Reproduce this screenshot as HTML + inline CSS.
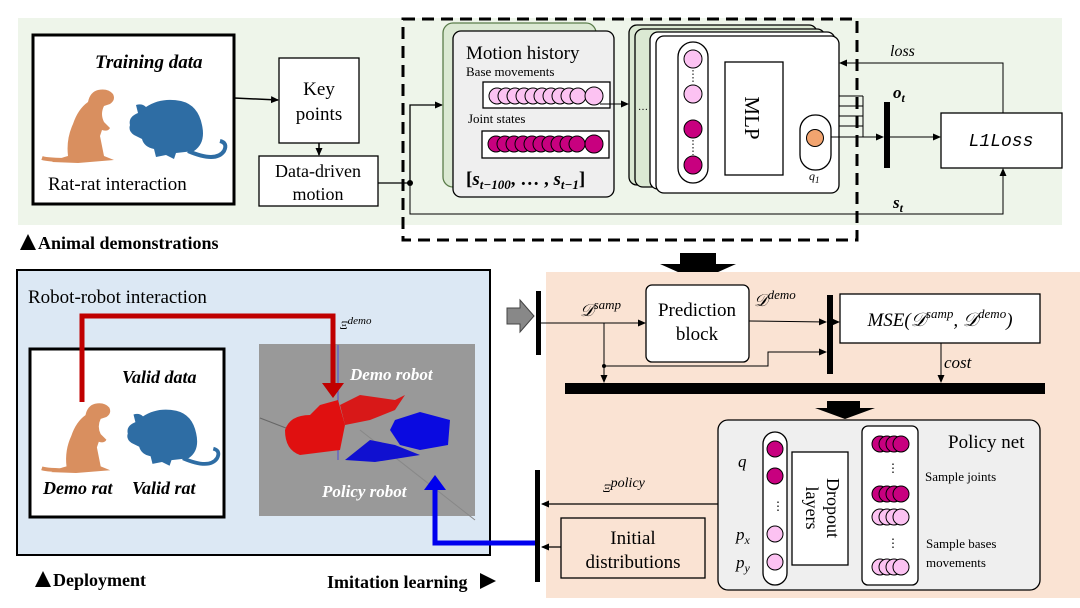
<!DOCTYPE html>
<html><head><meta charset="utf-8"><style>
html,body{margin:0;padding:0;background:#fff;}
svg{display:block;font-family:"Liberation Serif",serif;}
.it{font-style:italic}
</style></head><body>
<svg width="1080" height="608" viewBox="0 0 1080 608" xmlns="http://www.w3.org/2000/svg">
<defs>
<marker id="ar" markerWidth="8" markerHeight="8" refX="7" refY="4" orient="auto" markerUnits="userSpaceOnUse"><path d="M0,0.5 L8,4 L0,7.5z" fill="#000"/></marker>
<g id="ratO"><path d="M14,78 Q22,74 30,72 Q28,55 35,40 Q40,25 50,18 Q52,8 60,6 Q70,4 75,10 Q78,16 72,20 L66,22 Q62,30 66,38 L72,44 Q70,48 64,46 L62,52 L66,72 L76,76 L40,79 Z" fill="#d98f5f"/><path d="M32,76 Q10,76 4,74" fill="none" stroke="#d98f5f" stroke-width="4"/></g>
<g id="ratB"><path d="M4,30 Q2,22 12,18 L10,10 Q16,8 20,12 Q35,2 55,6 Q72,10 76,30 Q80,48 68,56 L50,58 L48,64 L40,60 L30,62 L28,54 Q18,52 16,44 L8,40 Q2,36 4,30 Z" fill="#2e6da4"/><path d="M62,56 Q90,68 98,56 Q102,48 94,46" fill="none" stroke="#2e6da4" stroke-width="4"/></g>
</defs>

<rect x="18" y="18" width="1044" height="207" fill="#eef5ea"/>
<rect x="33" y="35" width="201" height="169" fill="#fff" stroke="#000" stroke-width="3"/>
<text x="95" y="68" font-size="19" font-weight="bold" class="it">Training data</text>
<use href="#ratO" transform="translate(38,84) scale(1.0)"/>
<use href="#ratB" transform="translate(126,95) scale(1.0)"/>
<text x="48" y="190" font-size="19">Rat-rat interaction</text>
<line x1="234" y1="98" x2="278" y2="100" stroke="#000" stroke-width="1.5" marker-end="url(#ar)"/>
<rect x="279" y="58" width="80" height="85" fill="#fff" stroke="#000" stroke-width="1.3"/>
<text x="319" y="95" font-size="19" text-anchor="middle">Key</text>
<text x="319" y="120" font-size="19" text-anchor="middle">points</text>
<line x1="319" y1="143" x2="319" y2="155" stroke="#000" stroke-width="1.5" marker-end="url(#ar)"/>
<rect x="259" y="156" width="119" height="50" fill="#fff" stroke="#000" stroke-width="1.3"/>
<text x="318" y="177" font-size="18" text-anchor="middle">Data-driven</text>
<text x="318" y="200" font-size="18" text-anchor="middle">motion</text>
<polygon points="20,250 28,234 36,250" fill="#000"/>
<text x="38" y="249" font-size="18" font-weight="bold">Animal demonstrations</text>

<line x1="378" y1="183" x2="410" y2="183" stroke="#000" stroke-width="1.3"/>
<circle cx="410" cy="183" r="3" fill="#000"/>
<polyline points="410,183 410,105 442,105" fill="none" stroke="#000" stroke-width="1.3" marker-end="url(#ar)"/>
<polyline points="410,183 410,214 1003,214 1003,169" fill="none" stroke="#000" stroke-width="1" marker-end="url(#ar)"/>
<rect x="403" y="19" width="454" height="221" fill="none" stroke="#000" stroke-width="3" stroke-dasharray="12,7"/>

<rect x="443" y="23" width="153" height="164" rx="10" fill="#dbe9d3" stroke="#5b7d4b" stroke-width="1.3"/>
<rect x="453" y="31" width="161" height="166" rx="8" fill="#efefef" stroke="#000" stroke-width="1.3"/>
<text x="466" y="59" font-size="19">Motion history</text>
<text x="466" y="76" font-size="13">Base movements</text>
<rect x="483" y="82" width="127" height="26" fill="#fff" stroke="#000" stroke-width="1.3"/>
<g fill="#fcc2f2" stroke="#000" stroke-width="1">
<circle cx="497" cy="96" r="8"/><circle cx="506" cy="96" r="8"/><circle cx="515" cy="96" r="8"/><circle cx="524" cy="96" r="8"/><circle cx="533" cy="96" r="8"/><circle cx="542" cy="96" r="8"/><circle cx="551" cy="96" r="8"/><circle cx="560" cy="96" r="8"/><circle cx="569" cy="96" r="8"/><circle cx="578" cy="96" r="8"/><circle cx="594" cy="96" r="9"/>
</g>
<text x="468" y="123" font-size="13">Joint states</text>
<rect x="482" y="131" width="127" height="27" fill="#fff" stroke="#000" stroke-width="1.3"/>
<g fill="#c8007f" stroke="#000" stroke-width="1">
<circle cx="496" cy="144" r="8"/><circle cx="505" cy="144" r="8"/><circle cx="514" cy="144" r="8"/><circle cx="523" cy="144" r="8"/><circle cx="532" cy="144" r="8"/><circle cx="541" cy="144" r="8"/><circle cx="550" cy="144" r="8"/><circle cx="559" cy="144" r="8"/><circle cx="568" cy="144" r="8"/><circle cx="577" cy="144" r="8"/><circle cx="594" cy="144" r="9"/>
</g>
<text x="466" y="185" font-size="19" font-weight="bold">[<tspan class="it">s</tspan><tspan font-size="13" class="it" dy="4">t−100</tspan><tspan dy="-4">, … , </tspan><tspan class="it">s</tspan><tspan font-size="13" class="it" dy="4">t−1</tspan><tspan dy="-4">]</tspan></text>
<line x1="600" y1="104" x2="628" y2="104" stroke="#000" stroke-width="1" marker-end="url(#ar)"/>

<rect x="629" y="25" width="188" height="160" rx="8" fill="#dbe9d3" stroke="#000" stroke-width="1.3"/>
<rect x="635" y="29" width="190" height="158" rx="8" fill="#dbe9d3" stroke="#000" stroke-width="1.3"/>
<rect x="650" y="32" width="185" height="157" rx="8" fill="#fff" stroke="#000" stroke-width="1.3"/>
<rect x="656" y="36" width="183" height="157" rx="8" fill="#fff" stroke="#000" stroke-width="1.3"/>
<text x="638" y="110" font-size="10">…</text>
<rect x="678" y="42" width="30" height="141" rx="15" fill="#fff" stroke="#000" stroke-width="1.3"/>
<circle cx="693" cy="59" r="9" fill="#fcc2f2" stroke="#000"/>
<circle cx="693" cy="94" r="9" fill="#fcc2f2" stroke="#000"/>
<circle cx="693" cy="129" r="9" fill="#c8007f" stroke="#000"/>
<circle cx="693" cy="165" r="9" fill="#c8007f" stroke="#000"/>
<line x1="693" y1="70" x2="693" y2="84" stroke="#000" stroke-dasharray="1.5,2"/>
<line x1="693" y1="140" x2="693" y2="155" stroke="#000" stroke-dasharray="1.5,2"/>
<rect x="725" y="62" width="58" height="113" fill="#fff" stroke="#000" stroke-width="1.3"/>
<text transform="translate(745,118) rotate(90)" font-size="21" text-anchor="middle">MLP</text>
<rect x="800" y="115" width="31" height="55" rx="15" fill="#fff" stroke="#000" stroke-width="1.3"/>
<circle cx="815" cy="138" r="8.5" fill="#f2a46f" stroke="#000"/>
<text x="809" y="180" font-size="12" class="it">q<tspan font-size="9" dy="3">1</tspan></text>
<g stroke="#000" stroke-width="1">
<line x1="839" y1="96" x2="863" y2="96"/><line x1="839" y1="106" x2="863" y2="106"/><line x1="839" y1="116" x2="863" y2="116"/><line x1="839" y1="126" x2="863" y2="126"/>
<line x1="863" y1="96" x2="863" y2="137"/>
<line x1="831" y1="137" x2="883" y2="137" marker-end="url(#ar)"/>
</g>
<rect x="884" y="102" width="6" height="66" fill="#000"/>
<text x="893" y="98" font-size="17" font-weight="bold" class="it">o<tspan font-size="12" dy="4">t</tspan></text>
<line x1="890" y1="137" x2="940" y2="137" stroke="#000" stroke-width="1" marker-end="url(#ar)"/>
<rect x="941" y="113" width="121" height="55" fill="#fff" stroke="#000" stroke-width="1.3"/>
<text x="1001" y="146" font-size="18" class="it" text-anchor="middle" font-family="Liberation Mono, monospace">L1Loss</text>
<polyline points="1003,113 1003,63 840,63" fill="none" stroke="#000" stroke-width="1" marker-end="url(#ar)"/>
<text x="890" y="56" font-size="16" class="it">loss</text>
<text x="893" y="208" font-size="17" font-weight="bold" class="it">s<tspan font-size="12" dy="4">t</tspan></text>

<polygon points="680,253 716,253 716,264 736,264 698,281 660,264 680,264" fill="#000"/>

<rect x="17" y="270" width="473" height="285" fill="#dce8f4" stroke="#000" stroke-width="2"/>
<text x="28" y="303" font-size="19">Robot-robot interaction</text>
<rect x="30" y="349" width="194" height="168" fill="#fff" stroke="#000" stroke-width="3"/>
<text x="122" y="383" font-size="18" font-weight="bold" class="it">Valid data</text>
<use href="#ratO" transform="translate(38,398) scale(0.95)"/>
<use href="#ratB" transform="translate(124,405) scale(0.95)"/>
<text x="43" y="494" font-size="18" font-weight="bold" class="it">Demo rat</text>
<text x="132" y="494" font-size="18" font-weight="bold" class="it">Valid rat</text>
<rect x="259" y="344" width="216" height="172" fill="#999"/>
<line x1="260" y1="418" x2="330" y2="445" stroke="#666"/>
<line x1="360" y1="430" x2="475" y2="520" stroke="#888"/>
<line x1="338" y1="345" x2="338" y2="460" stroke="#4a4ad8"/>
<path d="M285,430 Q290,415 310,415 L320,405 L338,400 L345,425 L340,450 L300,455 Q285,450 285,430Z" fill="#e01010"/>
<path d="M340,405 L360,395 L395,400 L405,395 L395,410 L370,420 L345,425Z" fill="#d81818"/>
<path d="M395,420 L420,412 L450,420 L448,445 L420,450 L400,445 L390,430Z" fill="#0a0ae0"/>
<path d="M345,460 L370,440 L395,445 L420,455 L375,462Z" fill="#1010d0"/>
<polyline points="82,402 82,316 333,316 333,385" fill="none" stroke="#c00000" stroke-width="5"/>
<polygon points="322,383 344,383 333,398" fill="#c00000"/>
<text x="340" y="329" font-size="12" class="it">Ξ<tspan font-size="11" dy="-5">demo</tspan></text>
<text x="350" y="380" font-size="17" font-weight="bold" fill="#fff" class="it">Demo robot</text>
<text x="322" y="497" font-size="17" font-weight="bold" fill="#fff" class="it">Policy robot</text>
<polyline points="540,543 435,543 435,488" fill="none" stroke="#0000ee" stroke-width="5"/>
<polygon points="424,490 446,490 435,475" fill="#0000ee"/>
<polygon points="35,587 43,571 51,587" fill="#000"/>
<text x="53" y="586" font-size="18" font-weight="bold">Deployment</text>
<text x="327" y="588" font-size="18" font-weight="bold">Imitation learning</text>
<polygon points="480,573 480,589 496,581" fill="#000"/>

<rect x="546" y="272" width="534" height="326" fill="#fae3d3"/>
<polygon points="507,308 520,308 520,300 534,316 520,332 520,324 507,324" fill="#888" stroke="#444"/>
<rect x="536" y="291" width="5" height="64" fill="#000"/>
<rect x="535" y="470" width="5" height="112" fill="#000"/>
<rect x="646" y="285" width="103" height="77" rx="6" fill="#fff" stroke="#000" stroke-width="1.3"/>
<text x="697" y="316" font-size="19" text-anchor="middle">Prediction</text>
<text x="697" y="340" font-size="19" text-anchor="middle">block</text>
<text x="580" y="316" font-size="17" class="it">𝒟<tspan font-size="13" dy="-7">samp</tspan></text>
<text x="754" y="306" font-size="17" class="it">𝒟<tspan font-size="13" dy="-7">demo</tspan></text>
<line x1="541" y1="323" x2="645" y2="323" stroke="#000" stroke-width="1" marker-end="url(#ar)"/>
<line x1="749" y1="321" x2="826" y2="322" stroke="#000" stroke-width="1" marker-end="url(#ar)"/>
<polyline points="604,323 604,366 768,366 768,352 826,352" fill="none" stroke="#000" stroke-width="1" marker-end="url(#ar)"/>
<circle cx="604" cy="366" r="2" fill="#000"/>
<line x1="604" y1="366" x2="604" y2="382" stroke="#000" stroke-width="1" marker-end="url(#ar)"/>
<rect x="827" y="295" width="6" height="79" fill="#000"/>
<line x1="833" y1="322" x2="839" y2="322" stroke="#000" stroke-width="1" marker-end="url(#ar)"/>
<rect x="840" y="294" width="200" height="49" fill="#fff" stroke="#000" stroke-width="1.3"/>
<text x="940" y="326" font-size="19" class="it" text-anchor="middle">MSE(𝒟<tspan font-size="13" dy="-8">samp</tspan><tspan dy="8">, 𝒟</tspan><tspan font-size="13" dy="-8">demo</tspan><tspan dy="8">)</tspan></text>
<line x1="941" y1="343" x2="941" y2="382" stroke="#000" stroke-width="1" marker-end="url(#ar)"/>
<text x="944" y="368" font-size="17" class="it">cost</text>
<rect x="565" y="383" width="480" height="11" fill="#000"/>
<polygon points="827,401 860,401 860,408 875,408 845,419 815,408 827,408" fill="#000"/>

<rect x="718" y="420" width="322" height="170" rx="10" fill="#efefef" stroke="#000" stroke-width="1.3"/>
<text x="948" y="448" font-size="19">Policy net</text>
<rect x="763" y="432" width="24" height="153" rx="12" fill="#fff" stroke="#000" stroke-width="1.3"/>
<circle cx="775" cy="449" r="8" fill="#c8007f" stroke="#000"/>
<circle cx="775" cy="476" r="8" fill="#c8007f" stroke="#000"/>
<text x="772" y="510" font-size="12">⋮</text>
<circle cx="775" cy="534" r="8" fill="#fcc2f2" stroke="#000"/>
<circle cx="775" cy="562" r="8" fill="#fcc2f2" stroke="#000"/>
<text x="738" y="467" font-size="17" class="it">q</text>
<text x="736" y="540" font-size="17" class="it">p<tspan font-size="12" dy="4">x</tspan></text>
<text x="736" y="568" font-size="17" class="it">p<tspan font-size="12" dy="4">y</tspan></text>
<rect x="792" y="452" width="56" height="113" fill="#fff" stroke="#000" stroke-width="1.3"/>
<text transform="translate(827,508) rotate(90)" font-size="18" text-anchor="middle">Dropout</text>
<text transform="translate(806,508) rotate(90)" font-size="18" text-anchor="middle">layers</text>
<rect x="862" y="426" width="56" height="159" rx="6" fill="#fff" stroke="#000" stroke-width="1.3"/>
<g stroke="#000" stroke-width="1">
<g fill="#c8007f">
<circle cx="880" cy="444" r="8"/><circle cx="887" cy="444" r="8"/><circle cx="894" cy="444" r="8"/><circle cx="901" cy="444" r="8"/>
<circle cx="880" cy="494" r="8"/><circle cx="887" cy="494" r="8"/><circle cx="894" cy="494" r="8"/><circle cx="901" cy="494" r="8"/></g>
<g fill="#fcc2f2">
<circle cx="880" cy="517" r="8"/><circle cx="887" cy="517" r="8"/><circle cx="894" cy="517" r="8"/><circle cx="901" cy="517" r="8"/>
<circle cx="880" cy="567" r="8"/><circle cx="887" cy="567" r="8"/><circle cx="894" cy="567" r="8"/><circle cx="901" cy="567" r="8"/></g>
</g>
<text x="887" y="472" font-size="12">⋮</text>
<text x="887" y="547" font-size="12">⋮</text>
<text x="925" y="481" font-size="13">Sample joints</text>
<text x="926" y="548" font-size="13">Sample bases</text>
<text x="926" y="567" font-size="13">movements</text>
<line x1="718" y1="504" x2="542" y2="504" stroke="#000" stroke-width="1.3" marker-end="url(#ar)"/>
<text x="603" y="492" font-size="12" class="it">Ξ<tspan font-size="14" dy="-5">policy</tspan></text>
<rect x="561" y="518" width="144" height="60" fill="#fae3d3" stroke="#000" stroke-width="1.3"/>
<text x="633" y="544" font-size="19" text-anchor="middle">Initial</text>
<text x="633" y="568" font-size="19" text-anchor="middle">distributions</text>
<line x1="561" y1="547" x2="542" y2="547" stroke="#000" stroke-width="1.3" marker-end="url(#ar)"/>
</svg>
</body></html>
